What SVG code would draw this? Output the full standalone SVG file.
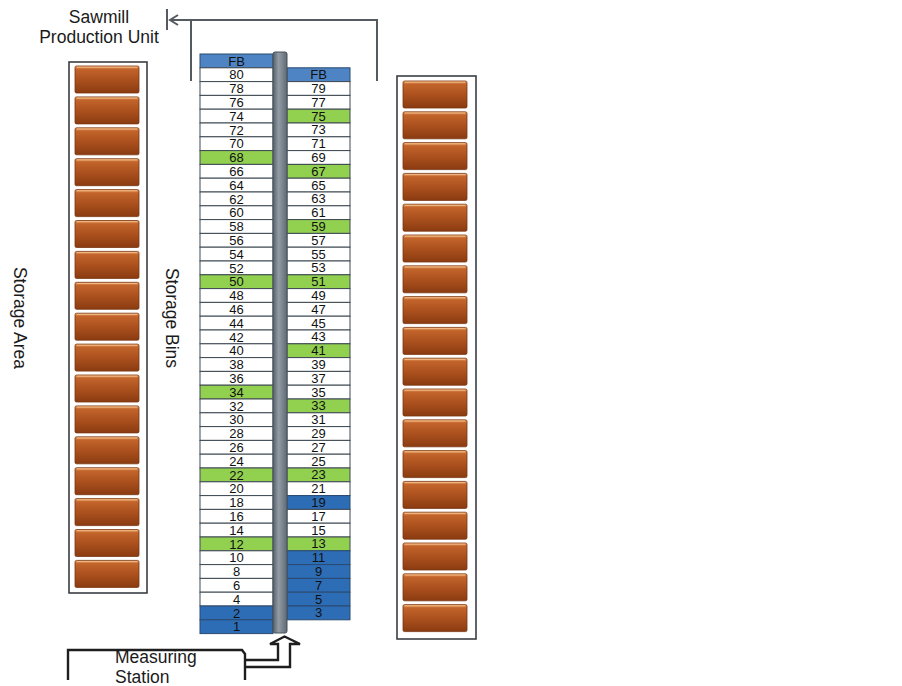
<svg xmlns="http://www.w3.org/2000/svg" xmlns:xlink="http://www.w3.org/1999/xlink" width="902" height="686" viewBox="0 0 902 686">
<style>
.lbl{font-family:"Liberation Sans",Arial,sans-serif;font-size:17.5px;fill:#1a1a1a}
.t{font-family:"Liberation Sans",Arial,sans-serif;font-size:13px;fill:#111;text-anchor:middle}
.w{fill:#ffffff;stroke:#3e4852;stroke-width:1}
.g{fill:#92d050;stroke:#3e4852;stroke-width:1}
.b{fill:#2d6db5;stroke:#2a4a70;stroke-width:1}
.fb{fill:#4f84c4;stroke:#2a4a70;stroke-width:1}
.box{fill:#ffffff;stroke:#3a3f45;stroke-width:1.6}
.con{fill:none;stroke:#555a60;stroke-width:2}
.ms{fill:none;stroke:#1e1e1e;stroke-width:2.4}
</style>
<defs>
<linearGradient id="brickGrad" x1="0" y1="0" x2="0" y2="1">
<stop offset="0" stop-color="#eaa66a"/>
<stop offset="0.12" stop-color="#c2642b"/>
<stop offset="0.55" stop-color="#a94f1d"/>
<stop offset="1" stop-color="#8a3b11"/>
</linearGradient>
<linearGradient id="poleGrad" x1="0" y1="0" x2="1" y2="0">
<stop offset="0" stop-color="#56606a"/>
<stop offset="0.4" stop-color="#939ca5"/>
<stop offset="1" stop-color="#5f6a74"/>
</linearGradient>
<g id="brick">
<rect x="0" y="0" width="64" height="27" rx="1.5" fill="url(#brickGrad)" stroke="#7a3612" stroke-width="0.8"/>
<line x1="2" y1="1.2" x2="62" y2="1.2" stroke="#f2b985" stroke-width="1"/>
</g>
</defs>
<rect x="0" y="0" width="902" height="686" fill="#ffffff"/>

<g id="connectors">
<path class="con" d="M377,81 V20 H170"/>
<path class="con" d="M191,81 V20"/>
<polyline class="con" points="178,15 170,20 178,25"/>
<line class="con" x1="167" y1="9" x2="167" y2="30"/>
<path class="ms" d="M245,660 H278 V644 H270 L284.5,636.5 L300,644 H290 V667 H245"/>
</g>

<g id="sawmill-production-unit">
<text class="lbl" x="99" y="23" text-anchor="middle">Sawmill</text>
<text class="lbl" x="99" y="43" text-anchor="middle">Production Unit</text>
</g>

<g id="storage-area-left">
<rect class="box" x="69" y="62" width="78" height="531"/>
<use xlink:href="#brick" x="75" y="66"/>
<use xlink:href="#brick" x="75" y="96.9"/>
<use xlink:href="#brick" x="75" y="127.8"/>
<use xlink:href="#brick" x="75" y="158.7"/>
<use xlink:href="#brick" x="75" y="189.6"/>
<use xlink:href="#brick" x="75" y="220.5"/>
<use xlink:href="#brick" x="75" y="251.4"/>
<use xlink:href="#brick" x="75" y="282.3"/>
<use xlink:href="#brick" x="75" y="313.2"/>
<use xlink:href="#brick" x="75" y="344.1"/>
<use xlink:href="#brick" x="75" y="375"/>
<use xlink:href="#brick" x="75" y="405.9"/>
<use xlink:href="#brick" x="75" y="436.8"/>
<use xlink:href="#brick" x="75" y="467.7"/>
<use xlink:href="#brick" x="75" y="498.6"/>
<use xlink:href="#brick" x="75" y="529.5"/>
<use xlink:href="#brick" x="75" y="560.4"/>
</g>

<g id="storage-area-right">
<rect class="box" x="397" y="76" width="79" height="563"/>
<use xlink:href="#brick" x="403" y="81"/>
<use xlink:href="#brick" x="403" y="111.8"/>
<use xlink:href="#brick" x="403" y="142.6"/>
<use xlink:href="#brick" x="403" y="173.4"/>
<use xlink:href="#brick" x="403" y="204.2"/>
<use xlink:href="#brick" x="403" y="235"/>
<use xlink:href="#brick" x="403" y="265.8"/>
<use xlink:href="#brick" x="403" y="296.6"/>
<use xlink:href="#brick" x="403" y="327.4"/>
<use xlink:href="#brick" x="403" y="358.2"/>
<use xlink:href="#brick" x="403" y="389"/>
<use xlink:href="#brick" x="403" y="419.8"/>
<use xlink:href="#brick" x="403" y="450.6"/>
<use xlink:href="#brick" x="403" y="481.4"/>
<use xlink:href="#brick" x="403" y="512.2"/>
<use xlink:href="#brick" x="403" y="543"/>
<use xlink:href="#brick" x="403" y="573.8"/>
<use xlink:href="#brick" x="403" y="604.6"/>
</g>

<g id="storage-area-label">
<text class="lbl" transform="translate(13.5,318) rotate(90)" text-anchor="middle">Storage Area</text>
</g>
<g id="storage-bins-label">
<text class="lbl" transform="translate(165.5,318) rotate(90)" text-anchor="middle">Storage Bins</text>
</g>

<g id="bins-left" transform="translate(200,54)">
<rect class="fb" x="0" y="0" width="73" height="13.8"/><text class="t" x="36.5" y="11.5">FB</text>
<rect class="w" x="0" y="13.8" width="73" height="13.8"/><text class="t" x="36.5" y="25.3">80</text>
<rect class="w" x="0" y="27.6" width="73" height="13.8"/><text class="t" x="36.5" y="39.1">78</text>
<rect class="w" x="0" y="41.4" width="73" height="13.8"/><text class="t" x="36.5" y="52.9">76</text>
<rect class="w" x="0" y="55.2" width="73" height="13.8"/><text class="t" x="36.5" y="66.7">74</text>
<rect class="w" x="0" y="69" width="73" height="13.8"/><text class="t" x="36.5" y="80.5">72</text>
<rect class="w" x="0" y="82.8" width="73" height="13.8"/><text class="t" x="36.5" y="94.3">70</text>
<rect class="g" x="0" y="96.6" width="73" height="13.8"/><text class="t" x="36.5" y="108.1">68</text>
<rect class="w" x="0" y="110.4" width="73" height="13.8"/><text class="t" x="36.5" y="121.9">66</text>
<rect class="w" x="0" y="124.2" width="73" height="13.8"/><text class="t" x="36.5" y="135.7">64</text>
<rect class="w" x="0" y="138" width="73" height="13.8"/><text class="t" x="36.5" y="149.5">62</text>
<rect class="w" x="0" y="151.8" width="73" height="13.8"/><text class="t" x="36.5" y="163.3">60</text>
<rect class="w" x="0" y="165.6" width="73" height="13.8"/><text class="t" x="36.5" y="177.1">58</text>
<rect class="w" x="0" y="179.4" width="73" height="13.8"/><text class="t" x="36.5" y="190.9">56</text>
<rect class="w" x="0" y="193.2" width="73" height="13.8"/><text class="t" x="36.5" y="204.7">54</text>
<rect class="w" x="0" y="207" width="73" height="13.8"/><text class="t" x="36.5" y="218.5">52</text>
<rect class="g" x="0" y="220.8" width="73" height="13.8"/><text class="t" x="36.5" y="232.3">50</text>
<rect class="w" x="0" y="234.6" width="73" height="13.8"/><text class="t" x="36.5" y="246.1">48</text>
<rect class="w" x="0" y="248.4" width="73" height="13.8"/><text class="t" x="36.5" y="259.9">46</text>
<rect class="w" x="0" y="262.2" width="73" height="13.8"/><text class="t" x="36.5" y="273.7">44</text>
<rect class="w" x="0" y="276" width="73" height="13.8"/><text class="t" x="36.5" y="287.5">42</text>
<rect class="w" x="0" y="289.8" width="73" height="13.8"/><text class="t" x="36.5" y="301.3">40</text>
<rect class="w" x="0" y="303.6" width="73" height="13.8"/><text class="t" x="36.5" y="315.1">38</text>
<rect class="w" x="0" y="317.4" width="73" height="13.8"/><text class="t" x="36.5" y="328.9">36</text>
<rect class="g" x="0" y="331.2" width="73" height="13.8"/><text class="t" x="36.5" y="342.7">34</text>
<rect class="w" x="0" y="345" width="73" height="13.8"/><text class="t" x="36.5" y="356.5">32</text>
<rect class="w" x="0" y="358.8" width="73" height="13.8"/><text class="t" x="36.5" y="370.3">30</text>
<rect class="w" x="0" y="372.6" width="73" height="13.8"/><text class="t" x="36.5" y="384.1">28</text>
<rect class="w" x="0" y="386.4" width="73" height="13.8"/><text class="t" x="36.5" y="397.9">26</text>
<rect class="w" x="0" y="400.2" width="73" height="13.8"/><text class="t" x="36.5" y="411.7">24</text>
<rect class="g" x="0" y="414" width="73" height="13.8"/><text class="t" x="36.5" y="425.5">22</text>
<rect class="w" x="0" y="427.8" width="73" height="13.8"/><text class="t" x="36.5" y="439.3">20</text>
<rect class="w" x="0" y="441.6" width="73" height="13.8"/><text class="t" x="36.5" y="453.1">18</text>
<rect class="w" x="0" y="455.4" width="73" height="13.8"/><text class="t" x="36.5" y="466.9">16</text>
<rect class="w" x="0" y="469.2" width="73" height="13.8"/><text class="t" x="36.5" y="480.7">14</text>
<rect class="g" x="0" y="483" width="73" height="13.8"/><text class="t" x="36.5" y="494.5">12</text>
<rect class="w" x="0" y="496.8" width="73" height="13.8"/><text class="t" x="36.5" y="508.3">10</text>
<rect class="w" x="0" y="510.6" width="73" height="13.8"/><text class="t" x="36.5" y="522.1">8</text>
<rect class="w" x="0" y="524.4" width="73" height="13.8"/><text class="t" x="36.5" y="535.9">6</text>
<rect class="w" x="0" y="538.2" width="73" height="13.8"/><text class="t" x="36.5" y="549.7">4</text>
<rect class="b" x="0" y="552" width="73" height="13.8"/><text class="t" x="36.5" y="563.5">2</text>
<rect class="b" x="0" y="565.8" width="73" height="13.8"/><text class="t" x="36.5" y="577.3">1</text>
</g>

<g id="bins-right" transform="translate(287,67.8)">
<rect class="fb" x="0" y="0" width="63" height="13.8"/><text class="t" x="31.5" y="11.5">FB</text>
<rect class="w" x="0" y="13.8" width="63" height="13.8"/><text class="t" x="31.5" y="25.3">79</text>
<rect class="w" x="0" y="27.6" width="63" height="13.8"/><text class="t" x="31.5" y="39.1">77</text>
<rect class="g" x="0" y="41.4" width="63" height="13.8"/><text class="t" x="31.5" y="52.9">75</text>
<rect class="w" x="0" y="55.2" width="63" height="13.8"/><text class="t" x="31.5" y="66.7">73</text>
<rect class="w" x="0" y="69" width="63" height="13.8"/><text class="t" x="31.5" y="80.5">71</text>
<rect class="w" x="0" y="82.8" width="63" height="13.8"/><text class="t" x="31.5" y="94.3">69</text>
<rect class="g" x="0" y="96.6" width="63" height="13.8"/><text class="t" x="31.5" y="108.1">67</text>
<rect class="w" x="0" y="110.4" width="63" height="13.8"/><text class="t" x="31.5" y="121.9">65</text>
<rect class="w" x="0" y="124.2" width="63" height="13.8"/><text class="t" x="31.5" y="135.7">63</text>
<rect class="w" x="0" y="138" width="63" height="13.8"/><text class="t" x="31.5" y="149.5">61</text>
<rect class="g" x="0" y="151.8" width="63" height="13.8"/><text class="t" x="31.5" y="163.3">59</text>
<rect class="w" x="0" y="165.6" width="63" height="13.8"/><text class="t" x="31.5" y="177.1">57</text>
<rect class="w" x="0" y="179.4" width="63" height="13.8"/><text class="t" x="31.5" y="190.9">55</text>
<rect class="w" x="0" y="193.2" width="63" height="13.8"/><text class="t" x="31.5" y="204.7">53</text>
<rect class="g" x="0" y="207" width="63" height="13.8"/><text class="t" x="31.5" y="218.5">51</text>
<rect class="w" x="0" y="220.8" width="63" height="13.8"/><text class="t" x="31.5" y="232.3">49</text>
<rect class="w" x="0" y="234.6" width="63" height="13.8"/><text class="t" x="31.5" y="246.1">47</text>
<rect class="w" x="0" y="248.4" width="63" height="13.8"/><text class="t" x="31.5" y="259.9">45</text>
<rect class="w" x="0" y="262.2" width="63" height="13.8"/><text class="t" x="31.5" y="273.7">43</text>
<rect class="g" x="0" y="276" width="63" height="13.8"/><text class="t" x="31.5" y="287.5">41</text>
<rect class="w" x="0" y="289.8" width="63" height="13.8"/><text class="t" x="31.5" y="301.3">39</text>
<rect class="w" x="0" y="303.6" width="63" height="13.8"/><text class="t" x="31.5" y="315.1">37</text>
<rect class="w" x="0" y="317.4" width="63" height="13.8"/><text class="t" x="31.5" y="328.9">35</text>
<rect class="g" x="0" y="331.2" width="63" height="13.8"/><text class="t" x="31.5" y="342.7">33</text>
<rect class="w" x="0" y="345" width="63" height="13.8"/><text class="t" x="31.5" y="356.5">31</text>
<rect class="w" x="0" y="358.8" width="63" height="13.8"/><text class="t" x="31.5" y="370.3">29</text>
<rect class="w" x="0" y="372.6" width="63" height="13.8"/><text class="t" x="31.5" y="384.1">27</text>
<rect class="w" x="0" y="386.4" width="63" height="13.8"/><text class="t" x="31.5" y="397.9">25</text>
<rect class="g" x="0" y="400.2" width="63" height="13.8"/><text class="t" x="31.5" y="411.7">23</text>
<rect class="w" x="0" y="414" width="63" height="13.8"/><text class="t" x="31.5" y="425.5">21</text>
<rect class="b" x="0" y="427.8" width="63" height="13.8"/><text class="t" x="31.5" y="439.3">19</text>
<rect class="w" x="0" y="441.6" width="63" height="13.8"/><text class="t" x="31.5" y="453.1">17</text>
<rect class="w" x="0" y="455.4" width="63" height="13.8"/><text class="t" x="31.5" y="466.9">15</text>
<rect class="g" x="0" y="469.2" width="63" height="13.8"/><text class="t" x="31.5" y="480.7">13</text>
<rect class="b" x="0" y="483" width="63" height="13.8"/><text class="t" x="31.5" y="494.5">11</text>
<rect class="b" x="0" y="496.8" width="63" height="13.8"/><text class="t" x="31.5" y="508.3">9</text>
<rect class="b" x="0" y="510.6" width="63" height="13.8"/><text class="t" x="31.5" y="522.1">7</text>
<rect class="b" x="0" y="524.4" width="63" height="13.8"/><text class="t" x="31.5" y="535.9">5</text>
<rect class="b" x="0" y="538.2" width="63" height="13.8"/><text class="t" x="31.5" y="549.7">3</text>
</g>

<g id="pole">
<rect x="273" y="52" width="14" height="581" rx="2" fill="url(#poleGrad)" stroke="#48525b" stroke-width="1"/>
</g>

<g id="measuring-station">
<path class="ms" d="M68,680 V650 H242 L245,654 V680"/>
<text class="lbl" x="115" y="663">Measuring</text>
<text class="lbl" x="115" y="683">Station</text>
</g>
</svg>
